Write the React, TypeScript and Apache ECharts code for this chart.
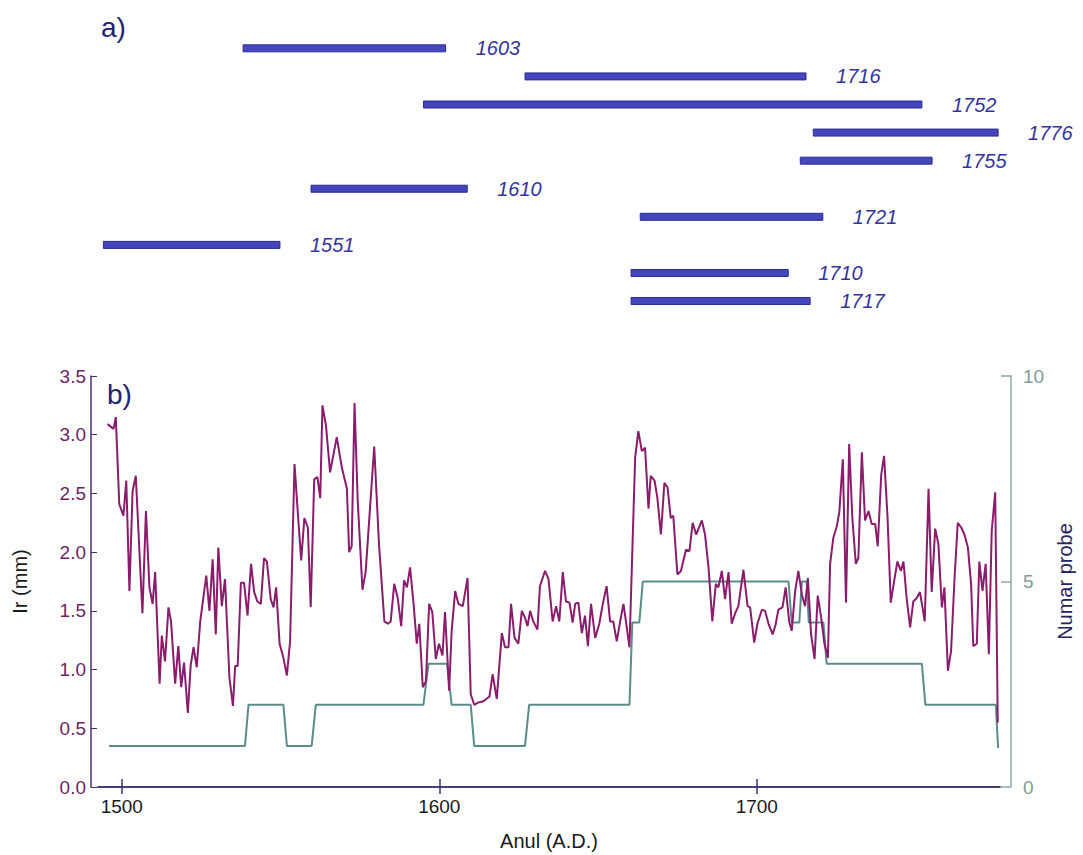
import React, { useEffect, useRef } from "react";
import * as echarts from "echarts";

// ---------- panel a) : sample spans ----------
const barLabels = ["1603", "1716", "1752", "1776", "1755", "1610", "1721", "1551", "1710", "1717"];
const barStarts = [1538.2, 1627, 1595, 1717.8, 1713.7, 1559.6, 1663.3, 1494.2, 1660.4, 1660.4];
const barEnds = [1602, 1715.5, 1752, 1776, 1755.2, 1608.8, 1720.8, 1549.8, 1709.9, 1716.8];

// ---------- panel b) : ring width (Ir, mm) ----------
const irYears = [
  1495.5, 1497.4, 1498.1, 1499.2, 1500.5, 1501.4, 1502.4, 1503.4, 1504.4, 1506.5,
  1507.6, 1508.7, 1509.7, 1510.5, 1511.9, 1512.6, 1513.6, 1514.7, 1515.5, 1516.8,
  1517.8, 1518.7, 1519.6, 1520.8, 1521.7, 1522.6, 1523.6, 1524.7, 1526.6, 1527.6,
  1528.6, 1529.6, 1530.4, 1531.5, 1532.5, 1533.9, 1535.0, 1535.7, 1536.5, 1537.5,
  1538.5, 1539.6, 1540.7, 1541.7, 1542.7, 1543.8, 1544.8, 1545.7, 1546.9, 1547.8,
  1548.6, 1549.7, 1550.9, 1552.0, 1553.0, 1554.4, 1555.4, 1556.5, 1557.5, 1558.6,
  1559.5, 1560.6, 1561.6, 1562.5, 1563.2, 1564.3, 1565.6, 1567.7, 1569.3, 1570.9,
  1571.6, 1572.4, 1573.3, 1574.3, 1575.8, 1576.8, 1579.5, 1581.0, 1582.7, 1583.8,
  1584.7, 1585.8, 1586.9, 1588.0, 1588.9, 1589.8, 1590.8, 1591.9, 1592.9, 1593.7,
  1594.8, 1595.8, 1596.8, 1597.8, 1598.9, 1599.9, 1601.0, 1601.8, 1603.1, 1603.9,
  1605.0, 1606.0, 1607.4, 1608.9, 1609.9, 1611.0, 1612.3, 1613.9, 1615.8, 1616.8,
  1618.1, 1619.7, 1620.7, 1621.8, 1622.6, 1623.7, 1624.9, 1626.0, 1627.0, 1627.8,
  1628.6, 1629.6, 1630.9, 1631.7, 1633.3, 1634.4, 1635.7, 1636.8, 1637.8, 1638.9,
  1639.9, 1641.0, 1642.0, 1642.8, 1643.8, 1644.9, 1645.9, 1646.8, 1647.8, 1649.1,
  1650.4, 1651.5, 1652.7, 1653.8, 1654.8, 1655.9, 1656.9, 1658.0, 1659.0, 1659.9,
  1660.9, 1661.7, 1662.7, 1663.8, 1664.8, 1665.9, 1666.6, 1667.8, 1668.7, 1669.8,
  1670.9, 1671.9, 1672.9, 1673.7, 1675.0, 1676.1, 1677.7, 1678.8, 1679.8, 1680.9,
  1682.7, 1683.7, 1684.8, 1686.0, 1687.1, 1687.9, 1689.0, 1690.0, 1691.1, 1692.1,
  1693.2, 1694.2, 1695.8, 1697.1, 1697.9, 1699.2, 1700.2, 1701.6, 1702.6, 1703.7,
  1705.0, 1705.9, 1706.8, 1708.1, 1709.1, 1710.2, 1711.0, 1712.1, 1713.1, 1714.2,
  1715.2, 1716.1, 1717.1, 1718.2, 1719.2, 1720.3, 1721.3, 1722.4, 1723.1, 1724.1,
  1725.2, 1726.0, 1727.1, 1728.1, 1729.1, 1730.1, 1731.2, 1732.0, 1733.1, 1734.1,
  1735.2, 1736.2, 1737.3, 1738.1, 1739.2, 1740.1, 1741.2, 1742.2, 1743.3, 1744.3,
  1745.4, 1746.2, 1747.2, 1748.3, 1749.3, 1750.4, 1751.4, 1752.9, 1754.1, 1755.1,
  1756.2, 1757.2, 1758.3, 1759.1, 1760.2, 1761.2, 1762.3, 1763.3, 1764.4, 1765.4,
  1766.5, 1767.5, 1768.2, 1769.3, 1770.1, 1771.1, 1772.1, 1773.1, 1774.0, 1775.1,
  1775.9,
];
const irValues = [
  3.09, 3.05, 3.15, 2.41, 2.31, 2.61, 1.67, 2.52, 2.65, 1.48,
  2.35, 1.70, 1.56, 1.83, 0.88, 1.29, 1.07, 1.53, 1.41, 0.88,
  1.20, 0.85, 1.06, 0.63, 1.04, 1.19, 1.02, 1.41, 1.80, 1.50,
  1.94, 1.30, 2.04, 1.54, 1.77, 0.93, 0.69, 1.03, 1.03, 1.74,
  1.74, 1.46, 1.90, 1.66, 1.58, 1.56, 1.95, 1.92, 1.60, 1.53,
  1.70, 1.22, 1.10, 0.95, 1.24, 2.75, 2.35, 1.93, 2.29, 2.21,
  1.53, 2.62, 2.64, 2.46, 3.25, 3.08, 2.68, 2.98, 2.72, 2.54,
  2.00, 2.05, 3.27, 2.44, 1.68, 1.83, 2.90, 2.07, 1.41, 1.39,
  1.41, 1.73, 1.61, 1.37, 1.76, 1.70, 1.87, 1.56, 1.22, 1.39,
  0.85, 0.90, 1.56, 1.49, 1.09, 1.22, 1.12, 1.49, 0.82, 1.33,
  1.67, 1.56, 1.54, 1.78, 0.79, 0.70, 0.72, 0.73, 0.77, 0.96,
  0.75, 1.31, 1.19, 1.19, 1.56, 1.27, 1.22, 1.50, 1.44, 1.37,
  1.50, 1.41, 1.34, 1.71, 1.84, 1.77, 1.41, 1.54, 1.41, 1.83,
  1.58, 1.57, 1.40, 1.56, 1.57, 1.31, 1.46, 1.20, 1.56, 1.27,
  1.39, 1.56, 1.71, 1.41, 1.41, 1.24, 1.40, 1.56, 1.37, 1.19,
  2.10, 2.81, 3.03, 2.86, 2.89, 2.37, 2.65, 2.61, 2.46, 2.15,
  2.59, 2.55, 2.29, 2.31, 1.81, 1.84, 2.02, 2.01, 2.25, 2.15,
  2.27, 2.15, 1.87, 1.41, 1.73, 1.70, 1.84, 1.60, 1.83, 1.39,
  1.48, 1.54, 1.85, 1.54, 1.53, 1.23, 1.39, 1.51, 1.50, 1.39,
  1.30, 1.38, 1.51, 1.53, 1.70, 1.41, 1.33, 1.67, 1.84, 1.64,
  1.54, 1.78, 1.30, 1.09, 1.63, 1.44, 1.22, 1.10, 1.90, 2.12,
  2.22, 2.34, 2.79, 1.57, 2.92, 2.29, 1.90, 1.95, 2.85, 2.27,
  2.35, 2.24, 2.24, 2.05, 2.66, 2.82, 2.29, 1.57, 1.76, 1.92,
  1.84, 1.92, 1.61, 1.36, 1.58, 1.61, 1.66, 1.41, 2.54, 1.66,
  2.20, 2.07, 1.53, 1.70, 0.99, 1.16, 1.78, 2.25, 2.21, 2.15,
  2.04, 1.73, 1.20, 1.22, 1.92, 1.67, 1.90, 1.13, 2.18, 2.51,
  0.55,
];

// ---------- panel b) : number of samples (Numar probe) ----------
const stepYears = [
  1496, 1538.8, 1539.9, 1550.9, 1552, 1559.8, 1561.1, 1595, 1596.6, 1602.4,
  1603.9, 1609.9, 1611, 1627, 1628.3, 1659.9, 1660.8, 1663, 1664.1, 1710,
  1711, 1713.4, 1714.2, 1715.7, 1716.4, 1721, 1722, 1752, 1753.1, 1775.3,
  1776,
];
const stepCounts = [
  1, 1, 2, 2, 1, 1, 2, 2, 3, 3,
  2, 2, 1, 1, 2, 2, 4, 4, 5, 5,
  4, 4, 5, 5, 4, 4, 3, 3, 2, 2,
  0.95,
];

const xTicks = [1500, 1600, 1700];
const X_MIN = 1492.5;
const X_MAX = 1776.6;

const FONT = "'Liberation Sans', Arial, sans-serif";

export default function App() {
  const ref = useRef<HTMLDivElement>(null);

  useEffect(() => {
    if (!ref.current) return;
    document.body.style.margin = "0";
    const chart = echarts.init(ref.current, null, { renderer: "svg" });

    const barData = barLabels.map((_, i) => [barStarts[i], barEnds[i], i]);
    const irData = irYears.map((y, i) => [y, irValues[i]]);
    const stepData = stepYears.map((y, i) => [y, stepCounts[i]]);

    const axisDark = "#3d3370";

    const option: any = {
      animation: false,
      backgroundColor: "#ffffff",
      textStyle: { fontFamily: FONT },
      grid: [
        { left: 98, right: 83, top: 34.3, height: 280.8 },
        { left: 98, right: 83, top: 376, bottom: 68 },
      ],
      xAxis: [
        {
          gridIndex: 0,
          type: "value",
          min: X_MIN,
          max: X_MAX,
          show: false,
        },
        {
          gridIndex: 1,
          type: "value",
          min: X_MIN,
          max: X_MAX,
          position: "bottom",
          name: "Anul (A.D.)",
          nameLocation: "middle",
          nameGap: 44,
          nameTextStyle: { color: "#1a1a1a", fontSize: 20, fontFamily: FONT },
          axisLine: { show: true, lineStyle: { color: axisDark, width: 1.5 } },
          axisTick: {
            show: true,
            inside: true,
            length: 8,
            customValues: xTicks,
            lineStyle: { color: axisDark, width: 1.5 },
          },
          axisLabel: {
            customValues: xTicks,
            color: "#1a1a1a",
            fontSize: 19,
            margin: 10,
            fontFamily: FONT,
            formatter: (v: number) => String(Math.round(v)),
          },
          splitLine: { show: false },
        },
        {
          gridIndex: 1,
          type: "value",
          min: X_MIN,
          max: X_MAX,
          position: "top",
          axisLine: { show: true, lineStyle: { color: axisDark, width: 1.5 } },
          axisTick: {
            show: true,
            inside: true,
            length: 7,
            customValues: xTicks,
            lineStyle: { color: axisDark, width: 1.5 },
          },
          axisLabel: { show: false },
          splitLine: { show: false },
        },
      ],
      yAxis: [
        {
          gridIndex: 0,
          type: "value",
          min: -0.5,
          max: 9.5,
          inverse: true,
          show: false,
        },
        {
          gridIndex: 1,
          type: "value",
          min: 0,
          max: 3.5,
          interval: 0.5,
          position: "left",
          offset: 7,
          name: "Ir (mm)",
          nameLocation: "middle",
          nameRotate: 90,
          nameGap: 61,
          nameTextStyle: { color: "#1a1a1a", fontSize: 20, fontFamily: FONT },
          axisLine: { show: true, lineStyle: { color: "#4a2d6a", width: 1.5 } },
          axisTick: { show: true, inside: true, length: 6, lineStyle: { color: "#4a2d6a" } },
          axisLabel: {
            color: "#6e2466",
            fontSize: 19,
            margin: 5,
            fontFamily: FONT,
            formatter: (v: number) => v.toFixed(1),
          },
          splitLine: { show: false },
        },
        {
          gridIndex: 1,
          type: "value",
          min: 0,
          max: 10,
          interval: 5,
          position: "right",
          offset: 11,
          name: "Numar probe",
          nameLocation: "middle",
          nameRotate: 90,
          nameGap: 42,
          nameTextStyle: { color: "#24245e", fontSize: 20, fontFamily: FONT },
          axisLine: { show: true, lineStyle: { color: "#8fa8a8", width: 1.5 } },
          axisTick: { show: true, inside: true, length: 10, lineStyle: { color: "#8fa8a8", width: 1.5 } },
          axisLabel: {
            color: "#7f9a9a",
            fontSize: 19,
            margin: 12,
            fontFamily: FONT,
          },
          splitLine: { show: false },
        },
      ],
      graphic: [
        {
          type: "text",
          left: 101,
          top: 13,
          style: { text: "a)", fill: "#232370", font: `28px ${FONT}` },
        },
        {
          type: "text",
          left: 107,
          top: 380,
          style: { text: "b)", fill: "#232370", font: `28px ${FONT}` },
        },
      ],
      series: [
        {
          type: "custom",
          xAxisIndex: 0,
          yAxisIndex: 0,
          clip: false,
          data: barData,
          renderItem: (params: any, api: any) => {
            const s = api.coord([api.value(0), api.value(2)]);
            const e = api.coord([api.value(1), api.value(2)]);
            const label = barLabels[params.dataIndex];
            return {
              type: "group",
              children: [
                {
                  type: "rect",
                  shape: { x: s[0], y: s[1] - 3.5, width: e[0] - s[0], height: 7 },
                  style: { fill: "#4545bd", stroke: "#2b2b92", lineWidth: 1 },
                },
                {
                  type: "text",
                  x: e[0] + 30,
                  y: s[1],
                  style: {
                    text: label,
                    fill: "#33339e",
                    font: `italic 20px ${FONT}`,
                    align: "left",
                    verticalAlign: "middle",
                  },
                },
              ],
            };
          },
        },
        {
          type: "line",
          name: "Ir",
          xAxisIndex: 1,
          yAxisIndex: 1,
          data: irData,
          showSymbol: false,
          symbol: "none",
          lineStyle: { color: "#8a1c6c", width: 2 },
          z: 3,
        },
        {
          type: "line",
          name: "Numar probe",
          xAxisIndex: 1,
          yAxisIndex: 2,
          data: stepData,
          showSymbol: false,
          symbol: "none",
          lineStyle: { color: "#5b8d88", width: 2 },
          z: 2,
        },
      ],
    };

    chart.setOption(option);
    return () => chart.dispose();
  }, []);

  return <div ref={ref} style={{ width: 1083, height: 855 }} />;
}
